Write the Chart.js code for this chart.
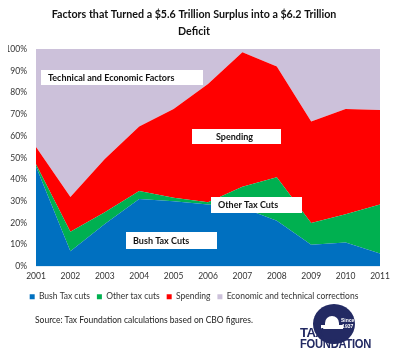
<!DOCTYPE html>
<html>
<head>
<meta charset="utf-8">
<script src="https://cdn.jsdelivr.net/npm/chart.js@4/dist/chart.umd.min.js"></script>
<style>
  body { margin: 0; background: #fff; }
  #wrap { position: relative; width: 400px; height: 354px; font-family: Lato, sans-serif; }
  #chart { position: absolute; left: 0; top: 0; }
  #source { position: absolute; left: 35px; top: 315px; font-size: 8.5px; color: #222; }
  #logo { position: absolute; left: 298px; top: 302px; width: 90px; height: 52px; }
  #logo .circle { position: absolute; left: 15px; top: 2px; width: 42px; height: 40px; border-radius: 50%; background: #232a63; }
  #logo .since { position: absolute; left: 43px; top: 15px; color: #fff; font: bold 5px "Liberation Sans", sans-serif; text-align: center; line-height: 6px; }
  #logo .dome { position: absolute; left: 27px; top: 14px; width: 14px; height: 9px; border-radius: 7px 7px 0 0; background: #fff; }
  #logo .base { position: absolute; left: 23px; top: 23px; width: 22px; height: 4px; background: #fff; }
  #logo .tax { position: absolute; left: 2px; top: 25px; color: #232a63; font: bold 13px "Liberation Sans", sans-serif; letter-spacing: -0.5px; line-height: 11px; }
  #logo .found { position: absolute; left: 2px; top: 36px; color: #232a63; font: bold 13px "Liberation Sans", sans-serif; line-height: 12px; transform-origin: 0 0; transform: scaleX(0.86); letter-spacing: -0.3px; }
</style>
</head>
<body>
<div id="wrap">
  <canvas id="chart" width="400" height="354"></canvas>
  <div id="source">Source: Tax Foundation calculations based on CBO figures.</div>
  <div id="logo">
    <div class="circle"></div>
    <div class="dome"></div>
    <div class="base"></div>
    <div class="since">Since<br>1937</div>
    <div class="tax">TAX</div>
    <div class="found">FOUNDATION</div>
  </div>
</div>
<script>
const years = ["2001", "2002", "2003", "2004", "2005", "2006", "2007", "2008", "2009", "2010", "2011"];
const bushTaxCuts = [46, 7, 19.5, 31, 30, 28.5, 27, 21, 10, 11, 6];
const otherTaxCuts = [1, 9, 5.5, 3.7, 1.6, 1, 9.7, 20, 10, 13, 22.5];
const spending = [8, 16, 24.4, 29.7, 40.9, 54.5, 61.8, 51, 46.7, 48.5, 43.5];
const economic = [45, 68, 50.6, 35.6, 27.5, 16, 1.5, 8, 33.3, 27.5, 28];
const yTicks = [0, 10, 20, 30, 40, 50, 60, 70, 80, 90, 100];

const font = "Lato";

// white label boxes drawn on top of the areas
const boxes = [
  { text: "Technical and Economic Factors", x: 41, y: 70, w: 162, h: 15, tx: 48 },
  { text: "Spending", x: 192, y: 129, w: 89, h: 15, tx: 216 },
  { text: "Other Tax Cuts", x: 211, y: 197, w: 91, h: 16, tx: 218 },
  { text: "Bush Tax Cuts", x: 126, y: 232, w: 91, h: 17, tx: 133 },
];

const labelBoxes = {
  id: "labelBoxes",
  afterDatasetsDraw(chart) {
    const ctx = chart.ctx;
    ctx.save();
    boxes.forEach((b) => {
      ctx.fillStyle = "#fff";
      ctx.fillRect(b.x, b.y, b.w, b.h);
      ctx.fillStyle = "#111";
      ctx.font = "bold 9px " + font;
      ctx.textBaseline = "middle";
      ctx.fillText(b.text, b.tx, b.y + b.h / 2 + 0.5);
    });
    ctx.restore();
  },
};

function area(label, data, color, fill) {
  return {
    label: label,
    data: data,
    backgroundColor: color,
    borderColor: color,
    borderWidth: 0,
    pointRadius: 0,
    tension: 0,
    fill: fill,
  };
}

new Chart(document.getElementById("chart"), {
  type: "line",
  data: {
    labels: years,
    datasets: [
      area("Bush Tax cuts", bushTaxCuts, "#0070c0", "origin"),
      area("Other tax cuts", otherTaxCuts, "#00b050", "-1"),
      area("Spending", spending, "#ff0000", "-1"),
      area("Economic and technical corrections", economic, "#ccc1da", "-1"),
    ],
  },
  options: {
    responsive: false,
    animation: false,
    layout: { padding: { left: 8, right: 20, top: 0, bottom: 43 } },
    plugins: {
      title: {
        display: true,
        text: ["Factors that Turned a $5.6 Trillion Surplus into a $6.2 Trillion", "Deficit"],
        color: "#111",
        font: { family: font, size: 10.7, weight: "bold", lineHeight: 1.5 },
        padding: { top: 7, bottom: 10 },
      },
      legend: {
        position: "bottom",
        labels: {
          color: "#333",
          font: { family: font, size: 8.5 },
          boxWidth: 5,
          boxHeight: 5,
          padding: 7,
        },
      },
      tooltip: { enabled: false },
    },
    scales: {
      x: {
        offset: false,
        afterFit: (axis) => {
          axis.height = 19;
        },
        grid: { display: false, drawTicks: false },
        border: { display: false },
        ticks: { color: "#333", font: { family: font, size: 8.5 }, maxRotation: 0, padding: 5 },
      },
      y: {
        stacked: true,
        min: 0,
        max: 100,
        afterBuildTicks: (axis) => {
          axis.ticks = yTicks.map((v) => ({ value: v }));
        },
        afterFit: (axis) => {
          axis.width = 28;
        },
        grid: { display: false, drawTicks: false },
        border: { display: false },
        ticks: { color: "#333", font: { family: font, size: 8.5 }, padding: 9, callback: (v) => v + "%" },
      },
    },
  },
  plugins: [labelBoxes],
});
</script>
</body>
</html>
